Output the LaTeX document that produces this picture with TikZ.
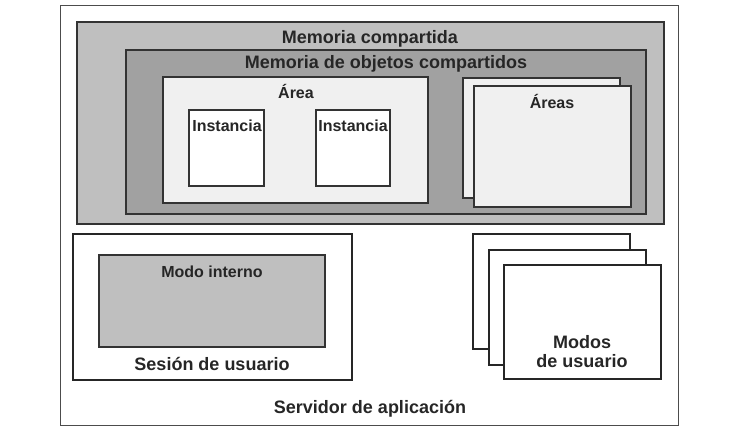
\documentclass[tikz,border=0pt]{standalone}
\usepackage{fontspec}
\setmainfont{Liberation Sans}
\begin{document}
\begin{tikzpicture}[x=1pt,y=-1pt,
  box/.style={draw=black!80,line width=1.2pt},
  thick box/.style={draw=black!85,line width=1.8pt},
  lbl/.style={font=\bfseries\fontsize{18}{19}\selectfont,text=black!85,inner sep=0pt},
  small/.style={font=\bfseries\fontsize{16}{18}\selectfont}]
\useasboundingbox (0,0) rectangle (733,434);
\draw[draw=black!70,line width=0.8pt] (60,5) rectangle (678,425);
\draw[box,fill=black!25] (77,22) rectangle (664,224);
\draw[box,fill=black!37] (126,50) rectangle (646,214);
\draw[box,fill=black!6] (163,77) rectangle (428,203);
\draw[box,fill=white] (189,110) rectangle (264,186);
\draw[box,fill=white] (316,110) rectangle (390,186);
\draw[box,fill=black!6] (463,78) rectangle (620,198);
\draw[box,fill=black!6] (474,86) rectangle (631,207);
\draw[thick box,fill=white] (73,234) rectangle (352,380);
\draw[box,fill=black!25] (99,255) rectangle (325,347);
\draw[thick box,fill=white] (473,234) rectangle (630,349);
\draw[thick box,fill=white] (489,250) rectangle (646,365);
\draw[thick box,fill=white] (504,265) rectangle (661,379);
\node[lbl] (mc) at (370,39) {Memoria compartida};
\node[lbl] (mo) at (386,64) {Memoria de objetos compartidos};
\node[lbl,small] (ar) at (296,91) {Área};
\node[lbl,small] (i1) at (227,126) {Instancia};
\node[lbl,small] (i2) at (353,126) {Instancia};
\node[lbl,small] (as) at (552,101) {Áreas};
\node[lbl,small] (mi) at (212,272) {Modo interno};
\node[lbl] (su) at (212,364) {Sesión de usuario};
\node[lbl,align=center] (mu) at (582,352) {Modos\\de usuario};
\node[lbl] (sa) at (370,409) {Servidor de aplicación};
\end{tikzpicture}
\end{document}
